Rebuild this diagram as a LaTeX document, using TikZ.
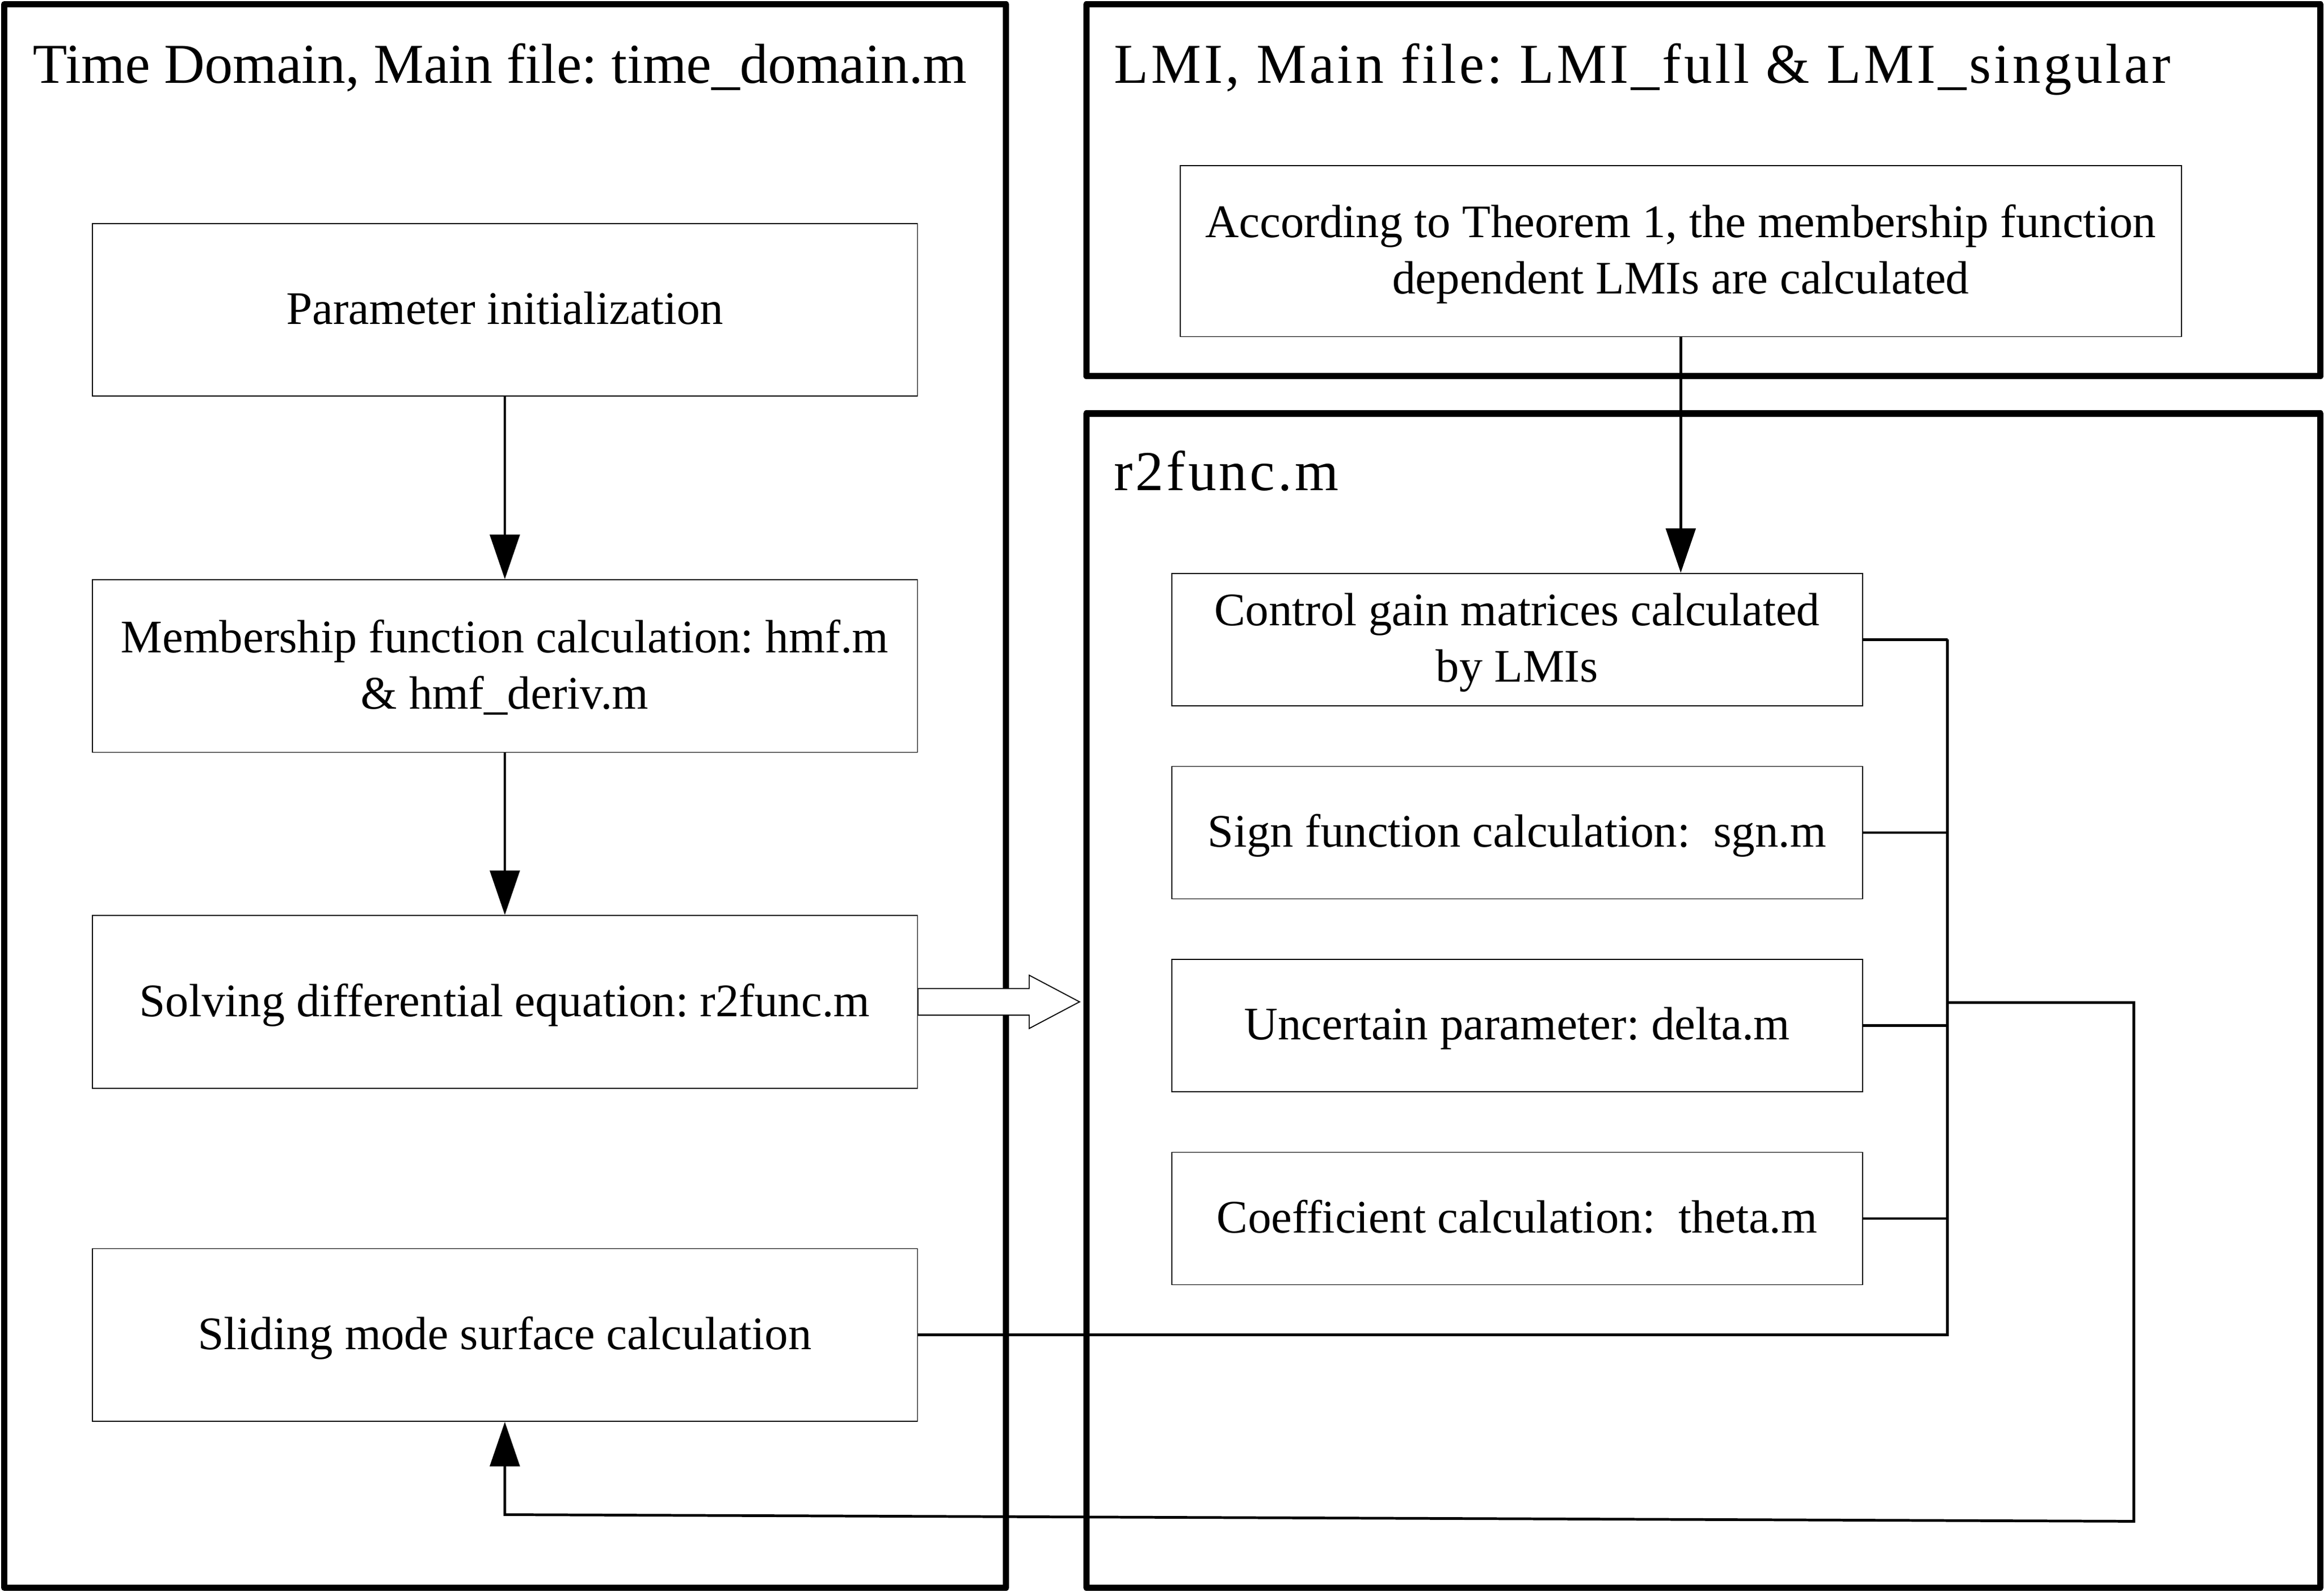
\documentclass[tikz,border=0pt]{standalone}
\usepackage{fontspec}
\setmainfont{Liberation Serif}
\newfontfamily\spacedfont[LetterSpace=5.0]{Liberation Serif}
\usetikzlibrary{arrows.meta}
\frenchspacing
\begin{document}
\begin{tikzpicture}[x=1pt,y=-1pt,
  frame/.style={draw, line width=4.3pt, line join=round},
  stepbox/.style={draw, line width=0.7pt, inner sep=0pt, align=center, text depth=2.5pt, font=\fontsize{31.5}{38}\selectfont},
  leftbox/.style={stepbox, minimum width=556.8pt, minimum height=116.5pt},
  rightbox/.style={stepbox, minimum width=466.2pt, minimum height=89.3pt},
  title/.style={anchor=base west, inner sep=0pt, font=\fontsize{38}{45}\selectfont},
  spacedtitle/.style={title, font={\spacedfont\fontsize{38}{45}\selectfont}},
  conn/.style={line width=1.8pt},
  arr/.style={conn, -{Triangle[length=30pt,width=20pt]}},
  hollow/.style={draw, fill=white, line width=0.7pt, line join=miter}
]
\useasboundingbox (0,0) rectangle (1568,1073.86);

% frames
\draw[frame] (2.9,2.9) rectangle (678.8,1071.3);
\draw[frame] (733,2.9) rectangle (1565.6,253.8);
\draw[frame] (733,279) rectangle (1565.6,1071.3);

% titles
\node[title] (tdtitle) at (22.2,55.9) {Time Domain, Main file: time\_domain.m};
\node[spacedtitle] (lmititle) at (751.5,55.9) {LMI, Main file: LMI\_full \& LMI\_singular};
\node[spacedtitle] (rtitle) at (751.5,330.8) {r2func.m};

% left boxes
\node[leftbox] (p1) at (340.6,209) {Parameter initialization};
\node[leftbox] (p2) at (340.6,449.4) {Membership function calculation: hmf.m\\\& hmf\_deriv.m};
\node[leftbox] (p3) at (340.6,676) {Solving differential equation: r2func.m};
\node[leftbox] (p4) at (340.6,900.8) {Sliding mode surface calculation};

% LMI box
\node[stepbox, minimum width=675.4pt, minimum height=115.5pt] (lmi) at (1134,169.35)
  {According to Theorem 1, the membership function\\dependent LMIs are calculated};

% right boxes
\node[rightbox] (r1) at (1023.6,431.5) {Control gain matrices calculated\\by LMIs};
\node[rightbox] (r2) at (1023.6,561.8) {Sign function calculation:\ \ sgn.m};
\node[rightbox] (r3) at (1023.6,692) {Uncertain parameter: delta.m};
\node[rightbox] (r4) at (1023.6,822.2) {Coefficient calculation:\ \ theta.m};

% connectors
\draw[arr] (p1.south) -- (p2.north);
\draw[arr] (p2.south) -- (p3.north);
\draw[arr] (lmi.south) -- (lmi.south |- r1.north);

\coordinate (bus) at (1314,431.5);
\coordinate (br) at (1314,676.5);
\coordinate (c1) at (1439.7,676.5);
\coordinate (c2) at (1439.7,1026.5);
\coordinate (c3) at (340.6,1022);

\draw[conn] (r1.east) -- (r1.east -| bus);
\draw[conn] (r2.east) -- (r2.east -| bus);
\draw[conn] (r3.east) -- (r3.east -| bus);
\draw[conn] (r4.east) -- (r4.east -| bus);
\draw[conn] (r1.east -| bus) -- (p4.east -| bus) -- (p4.east);
\draw[arr] (br) -- (c1) -- (c2) -- (c3) -- (p4.south);

% hollow arrow
\draw[hollow] (p3.east) ++(0,-9) -- ++(75,0) -- ++(0,-9) -- ++(34,18) -- ++(-34,18) -- ++(0,-9) -- ++(-75,0) -- cycle;
\end{tikzpicture}
\end{document}
